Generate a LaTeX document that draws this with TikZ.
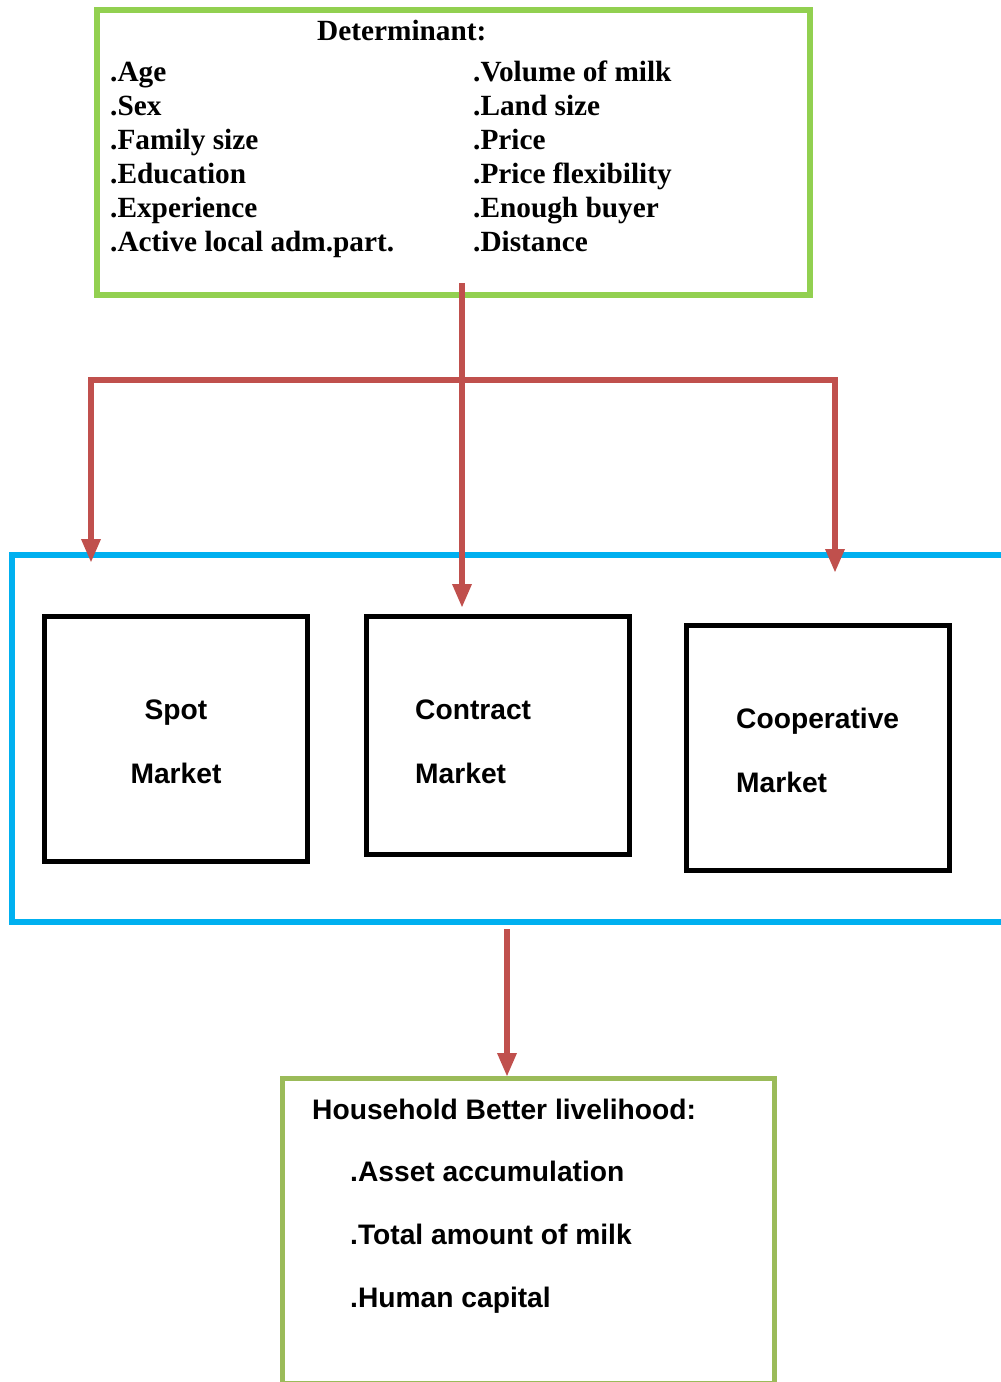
\documentclass[tikz,border=0pt]{standalone}
\usepackage{fontspec}
\setmainfont{Liberation Serif}
\newfontfamily\sansf{Liberation Sans}
\usetikzlibrary{arrows.meta}
\definecolor{arrred}{HTML}{C0504D}
\definecolor{topgreen}{HTML}{92D050}
\definecolor{botgreen}{HTML}{9BBB59}
\definecolor{contblue}{HTML}{00B0F0}
\tikzset{
  boxg/.style={draw=topgreen, line width=6pt, rectangle, inner sep=0pt, outer sep=0pt, anchor=north west},
  boxo/.style={draw=botgreen, line width=5pt, rectangle, inner sep=0pt, outer sep=0pt, anchor=north west},
  boxb/.style={draw=contblue, line width=6pt, rectangle, inner sep=0pt, outer sep=0pt, anchor=north west},
  mkt/.style={draw=black, line width=5pt, rectangle, inner sep=0pt, outer sep=0pt, anchor=north west, minimum width=263pt},
  dtxt/.style={anchor=base west, inner sep=0pt, font=\fontsize{29.3}{34}\selectfont\bfseries},
  stxt/.style={anchor=base west, inner sep=0pt, font=\sansf\fontsize{28.2}{34}\selectfont\bfseries},
  conn/.style={draw=arrred, line width=6pt},
  arr/.style={conn, -{Triangle[width=18pt,length=24pt]}},
}
\begin{document}
\begin{tikzpicture}[x=1pt,y=-1pt]
\useasboundingbox (0,0) rectangle (1001,1382);
% containers
\node[boxb, minimum width=1010pt, minimum height=367pt] (mk) at (12,555) {};
\node[boxg, minimum width=713pt, minimum height=285pt] (det) at (97,10) {};
\node[boxo, minimum width=492pt, minimum height=305pt] (hh) at (282,1078) {};
% market boxes
\node[mkt, minimum height=245pt] (spot) at (44,616) {};
\node[mkt, minimum height=238pt] (contract) at (366,616) {};
\node[mkt, minimum height=245pt] (coop) at (686,625) {};
% determinant texts
\node[dtxt] (dt) at (317,40) {Determinant:};
\node[dtxt] (l1) at (110,81) {.Age};
\node[dtxt] (l2) at (110,115) {.Sex};
\node[dtxt] (l3) at (110,149) {.Family size};
\node[dtxt] (l4) at (110,183) {.Education};
\node[dtxt] (l5) at (110,217) {.Experience};
\node[dtxt] (l6) at (110,251) {.Active local adm.part.};
\node[dtxt] (r1) at (473,81) {.Volume of milk};
\node[dtxt] (r2) at (473,115) {.Land size};
\node[dtxt] (r3) at (473,149) {.Price};
\node[dtxt] (r4) at (473,183) {.Price flexibility};
\node[dtxt] (r5) at (473,217) {.Enough buyer};
\node[dtxt] (r6) at (473,251) {.Distance};
% market texts
\node[stxt, anchor=base] (sp1) at (176,719) {Spot};
\node[stxt, anchor=base] (sp2) at (176,783) {Market};
\node[stxt] (ct1) at (415,719) {Contract};
\node[stxt] (ct2) at (415,783) {Market};
\node[stxt] (cp1) at (736,728) {Cooperative};
\node[stxt] (cp2) at (736,792) {Market};
% household texts
\node[stxt] (h0) at (312,1119) {Household Better livelihood:};
\node[stxt] (h1) at (350,1181) {.Asset accumulation};
\node[stxt] (h2) at (350,1244) {.Total amount of milk};
\node[stxt] (h3) at (350,1307) {.Human capital};
% connector coordinates
\coordinate (s0) at (462,283);
\coordinate (jl) at (91,380);
\coordinate (jr) at (835,380);
\coordinate (tl) at (91,563);
\coordinate (tc) at (462,608);
\coordinate (tr) at (835,573);
\coordinate (b0) at (507,929);
\coordinate (b1) at (507,1077);
% connectors
\draw[conn, line cap=rect] (jl) -- (jr);
\draw[arr] (jl) -- (tl);
\draw[arr] (jr) -- (tr);
\draw[arr] (s0) -- (tc);
\draw[arr] (b0) -- (b1);
\end{tikzpicture}
\end{document}
